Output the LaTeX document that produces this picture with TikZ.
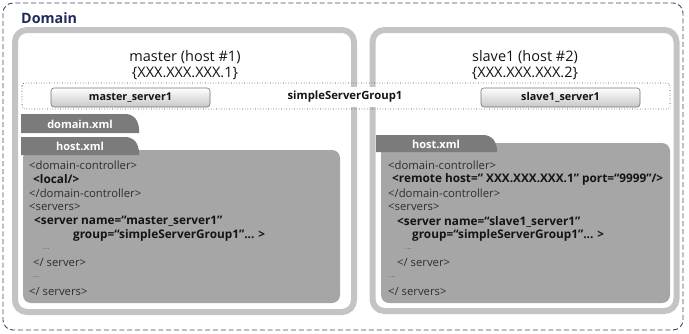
\documentclass[tikz,border=0pt]{standalone}
\usepackage{fontspec}
\setmainfont{Open Sans}
\definecolor{domblue}{HTML}{44446F}
\definecolor{domtext}{HTML}{1F2A5C}
\definecolor{hostgray}{HTML}{C4C4C4}
\definecolor{panelgray}{HTML}{A6A6A6}
\definecolor{tabgray}{HTML}{7B7B7B}
\definecolor{txtdark}{HTML}{141414}
\definecolor{txtreg}{HTML}{2E2E2E}
\begin{document}
\begin{tikzpicture}[x=1pt,y=-1pt,
  domainbox/.style={draw=domblue,line width=0.9pt,dash pattern=on 5pt off 2.8pt,rounded corners=10pt},
  hostbox/.style={draw=hostgray,line width=6pt,rounded corners=12pt},
  bandbox/.style={draw=black!75,line width=0.6pt,dotted,rounded corners=3pt},
  serverbtn/.style={draw=black!55,line width=0.6pt,rounded corners=3pt,top color=white,bottom color=black!22,
     minimum width=159pt,minimum height=19pt,inner sep=0pt,font=\fontsize{10.8}{12}\selectfont\bfseries,text=txtdark},
  tabfill/.style={fill=tabgray},
  tabtext/.style={text=white,font=\fontsize{11}{13}\selectfont\bfseries,inner sep=0pt},
  panel/.style={fill=panelgray,rounded corners=8pt},
  titletext/.style={font=\fontsize{14.5}{16}\selectfont,text=txtdark,inner sep=0pt},
  reg/.style={anchor=west,inner sep=0pt,font=\fontsize{11.3}{13}\selectfont,text=txtreg},
  bld/.style={anchor=west,inner sep=0pt,font=\fontsize{11.8}{13}\selectfont\bfseries,text=txtdark},
  dots/.style={anchor=west,inner sep=0pt,font=\fontsize{8}{9}\selectfont,text=black!60}
]
\useasboundingbox (0,0) rectangle (689,333);
% outer domain
\draw[domainbox] (3,3) rectangle (683,330);
\node[anchor=west,inner sep=0pt,font=\fontsize{14.3}{17}\selectfont\bfseries,text=domtext] (domain) at (21,18) {Domain};
% host boxes
\draw[hostbox] (15,30) rectangle (354,312);
\draw[hostbox] (372.5,30) rectangle (676.5,311);
\node[titletext] (mtitle) at (185,57) {master (host \#1)};
\node[titletext] (mip) at (185,73) {\{XXX.XXX.XXX.1\}};
\node[titletext] (stitle) at (525,57) {slave1 (host \#2)};
\node[titletext] (sip) at (525,73) {\{XXX.XXX.XXX.2\}};
% server group band
\draw[bandbox] (22,83) rectangle (670,109);
\node[fill=white,inner xsep=1pt,inner ysep=4pt,font=\fontsize{11.3}{13}\selectfont\bfseries,text=txtdark] (group) at (345,97) {simpleServerGroup1};
\node[serverbtn] (msrv) at (130.5,97.5) {master\_server1};
\node[serverbtn] (ssrv) at (560.5,97.5) {slave1\_server1};
% master panel and tabs
\fill[panel] (23,150) rectangle (340,303);
\fill[tabfill] (21,133) -- (21,114) [rounded corners=6pt] -- (132,114) -- (139,123) [sharp corners] -- (139,133) -- cycle;
\node[tabtext] (mdomxml) at (80,124) {domain.xml};
\fill[tabfill] (21,155) -- (21,137) [rounded corners=6pt] -- (132,137) -- (139,146) [sharp corners] -- (139,155) -- cycle;
\node[tabtext] (mhostxml) at (80,146.5) {host.xml};
% slave panel and tab
\fill[panel] (381,143) rectangle (670,303);
\fill[tabfill] (376,152) -- (376,135) [rounded corners=6pt] -- (490,135) -- (497,144) [sharp corners] -- (497,152) -- cycle;
\node[tabtext] (shostxml) at (436,144) {host.xml};
% master xml text
\node[reg] (m1) at (29,165) {<domain-controller>};
\node[bld] (m2) at (33,179) {<local/>};
\node[reg] (m3) at (29,193) {</domain-controller>};
\node[reg] (m4) at (29,207) {<servers>};
\node[bld] (m5) at (34,221.5) {<server name=“master\_server1”};
\node[bld] (m6) at (73,235.5) {group=“simpleServerGroup1”... >};
\node[dots] (m7) at (43,249) {...};
\node[reg] (m8) at (33,263) {</ server>};
\node[dots] (m9) at (33,277) {...};
\node[reg] (m10) at (29,291.5) {</ servers>};
% slave xml text
\node[reg] (s1) at (388,165) {<domain-controller>};
\node[bld] (s2) at (392,179) {<remote host=” XXX.XXX.XXX.1” port=“9999”/>};
\node[reg] (s3) at (388,193) {</domain-controller>};
\node[reg] (s4) at (388,207) {<servers>};
\node[bld] (s5) at (397,221.5) {<server name=“slave1\_server1”};
\node[bld] (s6) at (412,235.5) {group=“simpleServerGroup1”... >};
\node[dots] (s7) at (405,249) {...};
\node[reg] (s8) at (397,263) {</ server>};
\node[dots] (s9) at (389,277) {...};
\node[reg] (s10) at (388,291.5) {</ servers>};
\end{tikzpicture}
\end{document}
